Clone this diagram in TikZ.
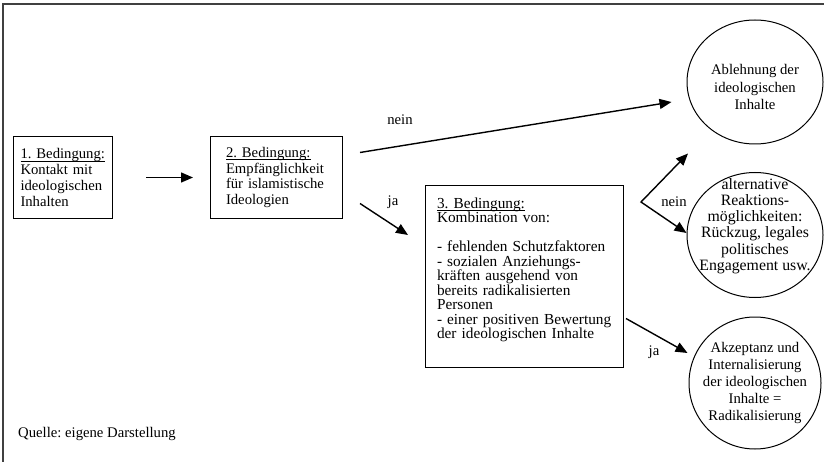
\documentclass[tikz,border=0pt]{standalone}
\usepackage{fontspec}
\setmainfont{Liberation Serif}
\usetikzlibrary{arrows.meta,shapes.geometric}

\frenchspacing
\newsavebox{\ubox}
\newcommand{\unterstr}[1]{\sbox{\ubox}{#1}\rlap{\rule[-2.4pt]{\wd\ubox}{0.8pt}}\usebox{\ubox}}
\tikzset{spitze/.tip={Triangle[length=12pt,width=10pt]}}

\begin{document}
\begin{tikzpicture}[x=1pt, y=-1pt,
        bed/.style={draw, line width=1pt, align=left, inner sep=0pt, anchor=north west, font=\fontsize{14.7}{15.7}\selectfont},
        oval/.style={ellipse, draw, line width=1pt, inner sep=0pt},
        ovaltext/.style={align=center, inner sep=0pt, font=\fontsize{14.7}{17}\selectfont},
        pfeil/.style={-spitze, line width=1.4pt},
        marke/.style={inner sep=0pt, font=\fontsize{14.7}{15.7}\selectfont}]

    \useasboundingbox (0,0) rectangle (824,462);

    % Rahmen:
    \draw[line width=1.8pt, black!75] (3,462) -- (3,4) -- (824,4);

    % Bedingungen:
    \node[bed, text width=85pt, minimum width=99pt, minimum height=82pt] (bed1) at (13,136)
        {\unterstr{1. Bedingung:}\\Kontakt mit\\ideologischen\\Inhalten};
    \node[bed, text width=101pt, minimum width=132pt, minimum height=82pt] (bed2) at (210,136)
        {\unterstr{2. Bedingung:}\\Empfänglichkeit\\für islamistische\\Ideologien};
    \node[bed, font=\fontsize{15.3}{14.5}\selectfont, text width=175pt, minimum width=198pt, minimum height=182pt] (bed3) at (425,185)
        {\unterstr{3. Bedingung:}\\Kombination von:\\[14.5pt]- fehlenden Schutzfaktoren\\- sozialen Anziehungs-\\kräften ausgehend von\\bereits radikalisierten\\Personen\\- einer positiven Bewertung\\der ideologischen Inhalte\\[2pt]\mbox{}};

    % Ergebnisse:
    \node[oval, minimum width=136pt, minimum height=124pt] (c1) at (755,82) {};
    \node[ovaltext, font=\fontsize{14.7}{17.5}\selectfont] (c1txt) at ([yshift=-5pt]c1.center)
        {Ablehnung der\\ideologischen\\Inhalte};
    \node[oval, minimum width=136pt, minimum height=125pt] (c2) at (755,235) {};
    \node[ovaltext, font=\fontsize{15.8}{16.2}\selectfont] (c2txt) at ([yshift=9pt]c2.center)
        {alternative\\Reaktions-\\möglichkeiten:\\Rückzug, legales\\politisches\\Engagement usw.};
    \node[oval, minimum width=132pt, minimum height=132pt] (c3) at (755,383) {};
    \node[ovaltext] (c3txt) at (c3.center)
        {Akzeptanz und\\Internalisierung\\der ideologischen\\Inhalte =\\Radikalisierung};

    % Pfeile:
    \draw[pfeil, shorten <=33pt, shorten >=17pt] (bed1) -- (bed2);
    \draw[pfeil] ([xshift=17pt, yshift=25pt]bed2.east) -- ([xshift=-15pt, yshift=-20pt]c1.west);
    \draw[pfeil] ([xshift=17pt, yshift=-26pt]bed2.east) -- ([xshift=-17pt, yshift=-50pt]bed3.north west);
    \coordinate (gabel) at ([xshift=17pt, yshift=-17pt]bed3.north east);
    \draw[pfeil, spitze-spitze] ([xshift=-67pt, yshift=-9pt]c1.south) -- (gabel) -- ([yshift=2pt]c2.west);
    \draw[pfeil] ([xshift=2pt, yshift=-42pt]bed3.east) -- ([xshift=-1pt, yshift=30pt]c3.west);

    % Beschriftungen:
    \node[marke] (nein1) at (400,120) {nein};
    \node[marke] (ja1) at (393,202) {ja};
    \node[marke] (nein2) at (674,202) {nein};
    \node[marke] (ja2) at (654,352) {ja};

    \node[marke, anchor=base west] (quelle) at (18,437) {Quelle: eigene Darstellung};
\end{tikzpicture}
\end{document}
